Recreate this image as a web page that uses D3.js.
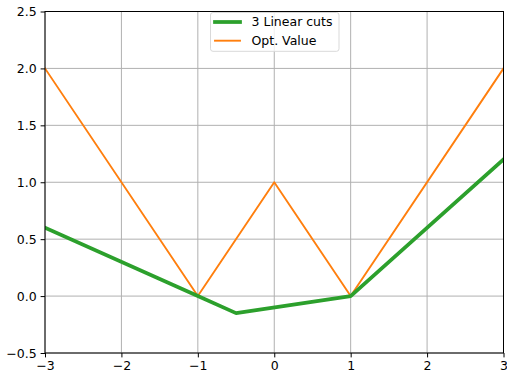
<!DOCTYPE html>
<html>
<head>
<meta charset="utf-8">
<script src="https://cdn.jsdelivr.net/npm/d3@7"></script>
<style>
  html, body { margin: 0; padding: 0; background: #fff; }
  svg { display: block; }
  text { font-family: "DejaVu Sans", sans-serif; }
</style>
</head>
<body>
<svg id="chart" width="507" height="373"></svg>
<script>
// Piecewise-linear approximation vs. the true optimal value
const cutsX = [-3, -1, -0.5, 1, 3];
const cutsY = [0.6, 0, -0.15, 0, 1.2];
const optX = [-3, -1, 0, 1, 3];
const optY = [2, 0, 1, 0, 2];
const xTicks = [-3, -2, -1, 0, 1, 2, 3];
const yTicks = [-0.5, 0.0, 0.5, 1.0, 1.5, 2.0, 2.5];
const seriesNames = ["3 Linear cuts", "Opt. Value"];

const svg = d3.select("#chart");
const m = { left: 45, right: 503.5, top: 11.5, bottom: 353 };
const FS = 12.5;

const x = d3.scaleLinear().domain([-3, 3]).range([m.left, m.right]);
const y = d3.scaleLinear().domain([-0.5, 2.5]).range([m.bottom, m.top]);

const fmtMinus = s => s.replace("-", "\u2212");

// grid
const grid = svg.append("g");
grid.selectAll(".gx").data(xTicks).join("line")
  .attr("x1", d => x(d)).attr("x2", d => x(d))
  .attr("y1", m.top).attr("y2", m.bottom)
  .attr("stroke", "#b0b0b0").attr("stroke-width", 1);
grid.selectAll(".gy").data(yTicks).join("line")
  .attr("y1", d => y(d)).attr("y2", d => y(d))
  .attr("x1", m.left).attr("x2", m.right)
  .attr("stroke", "#b0b0b0").attr("stroke-width", 1);

// series (clipped to the plot area)
svg.append("clipPath").attr("id", "plot-clip").append("rect")
  .attr("x", m.left).attr("y", m.top)
  .attr("width", m.right - m.left).attr("height", m.bottom - m.top);
const plot = svg.append("g").attr("clip-path", "url(#plot-clip)");
const line = d3.line().x(d => x(d[0])).y(d => y(d[1]));
plot.append("path")
  .datum(optX.map((v, i) => [v, optY[i]]))
  .attr("d", line).attr("fill", "none")
  .attr("stroke", "#ff7f0e").attr("stroke-width", 1.9)
  .attr("stroke-linejoin", "round").attr("stroke-linecap", "square");
plot.append("path")
  .datum(cutsX.map((v, i) => [v, cutsY[i]]))
  .attr("d", line).attr("fill", "none")
  .attr("stroke", "#2ca02c").attr("stroke-width", 3.75)
  .attr("stroke-linejoin", "round").attr("stroke-linecap", "square");

// frame
svg.append("rect")
  .attr("x", m.left).attr("y", m.top)
  .attr("width", m.right - m.left).attr("height", m.bottom - m.top)
  .attr("fill", "none").attr("stroke", "#000").attr("stroke-width", 1);

// axes
const xAxis = d3.axisBottom(x).tickValues(xTicks).tickSize(4.4).tickPadding(4)
  .tickFormat(d => fmtMinus(d3.format("d")(d)));
const yAxis = d3.axisLeft(y).tickValues(yTicks).tickSize(4.4).tickPadding(4)
  .tickFormat(d => fmtMinus(d3.format(".1f")(d)));

const gx = svg.append("g").attr("transform", `translate(0,${m.bottom})`).call(xAxis);
const gy = svg.append("g").attr("transform", `translate(${m.left},0)`).call(yAxis);
[gx, gy].forEach(g => {
  g.select(".domain").remove();
  g.selectAll(".tick line").attr("stroke", "#000").attr("stroke-width", 1);
  g.selectAll(".tick text").attr("fill", "#000")
    .style("font-family", "DejaVu Sans").style("font-size", FS + "px");
});

// legend
const lg = svg.append("g");
lg.append("rect")
  .attr("x", 210.5).attr("y", 12.5).attr("width", 128.5).attr("height", 38.8)
  .attr("rx", 2.5).attr("fill", "#fff").attr("fill-opacity", 0.8)
  .attr("stroke", "#d9d9d9").attr("stroke-width", 1);
const legendColors = ["#2ca02c", "#ff7f0e"];
const legendWidths = [3.75, 1.9];
seriesNames.forEach((name, i) => {
  const yy = 22 + i * 18.7;
  lg.append("line").attr("x1", 215).attr("x2", 240)
    .attr("y1", yy).attr("y2", yy)
    .attr("stroke", legendColors[i]).attr("stroke-width", legendWidths[i])
    .attr("stroke-linecap", "square");
  lg.append("text").attr("x", 251.5).attr("y", yy).attr("dy", "0.35em")
    .style("font-size", FS + "px").attr("fill", "#000").text(name);
});
</script>
</body>
</html>
